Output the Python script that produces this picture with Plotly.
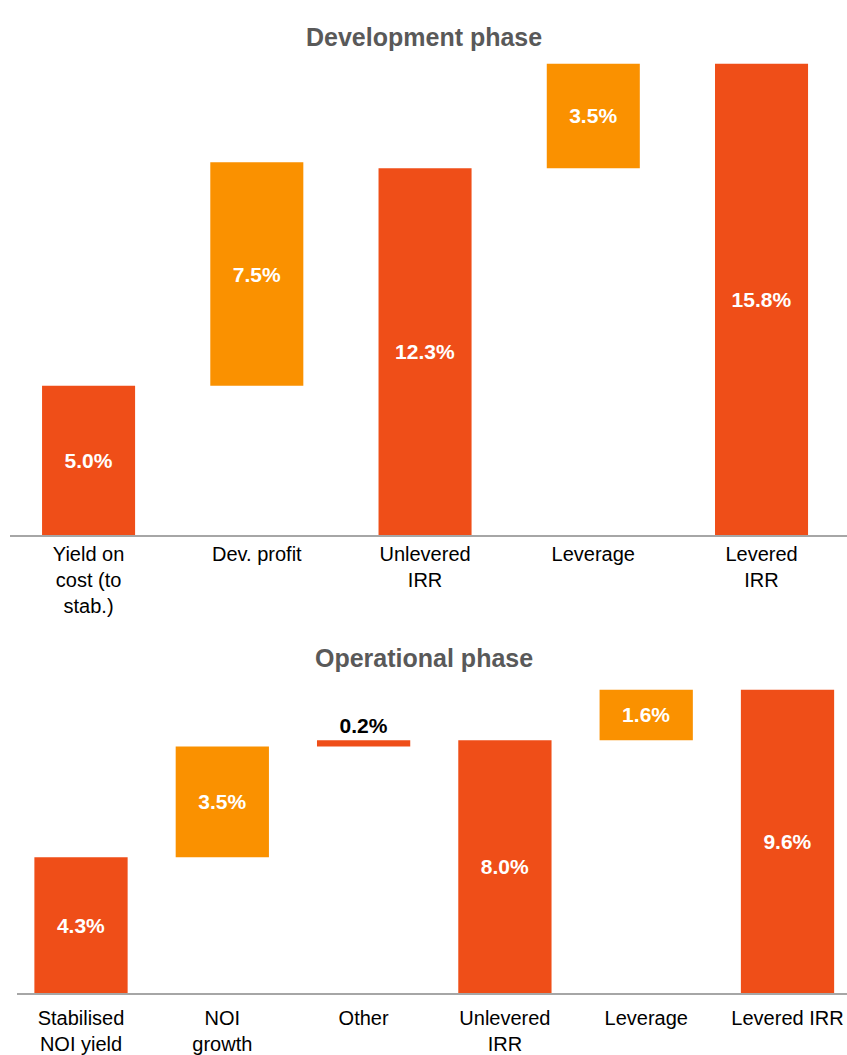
import plotly.graph_objects as go

# ---- Data ----
dev_labels = ["Yield on<br>cost (to<br>stab.)", "Dev. profit", "Unlevered<br>IRR", "Leverage", "Levered<br>IRR"]
dev_values = [5.0, 7.5, 12.3, 3.5, 15.8]
dev_measure = ["absolute", "relative", "absolute", "relative", "absolute"]
dev_kind = ["total", "step", "total", "step", "total"]

op_labels = ["Stabilised<br>NOI yield", "NOI<br>growth", "Other", "Unlevered<br>IRR", "Leverage", "Levered IRR"]
op_values = [4.3, 3.5, 0.2, 8.0, 1.6, 9.6]
op_measure = ["absolute", "relative", "relative", "absolute", "relative", "absolute"]
op_kind = ["total", "step", "minor", "total", "step", "total"]

RED = "#EF4E18"
ORANGE = "#FA9100"
FONT = "Liberation Sans, Arial, sans-serif"


def bases(values, measure):
    out, level = [], 0.0
    for v, m in zip(values, measure):
        if m == "relative":
            out.append(level)
            level += v
        else:
            out.append(0.0)
            level = v
    return out


def bar_trace(values, measure, kind, xaxis, yaxis, width):
    b = bases(values, measure)
    colors = [ORANGE if k == "step" else RED for k in kind]
    textpos = ["outside" if k == "minor" else "inside" for k in kind]
    tcolors = ["black" if k == "minor" else "white" for k in kind]
    return go.Bar(
        x=list(range(len(values))), y=values, base=b, width=width,
        marker=dict(color=colors, line=dict(width=0)),
        text=[f"<b>{v:.1f}%</b>" for v in values],
        textposition=textpos,
        insidetextanchor="middle",
        textfont=dict(family=FONT, size=21, color=tcolors),
        constraintext="none", cliponaxis=False,
        hoverinfo="skip", showlegend=False,
        xaxis=xaxis, yaxis=yaxis,
    )


fig = go.Figure()
fig.add_trace(bar_trace(dev_values, dev_measure, dev_kind, "x", "y", 0.553))
fig.add_trace(bar_trace(op_values, op_measure, op_kind, "x2", "y2", 0.66))

H = 1055.0
W = 847.0

axis_common = dict(showgrid=False, zeroline=False, ticks="", showline=True,
                   linecolor="#A6A6A6", linewidth=2,
                   tickfont=dict(family=FONT, size=20, color="black"))

fig.update_layout(
    width=847, height=1055,
    margin=dict(l=0, r=0, t=0, b=0),
    paper_bgcolor="white", plot_bgcolor="white",
    xaxis=dict(domain=[10 / W, 1.0], range=[-0.467, 4.508], anchor="y",
               tickvals=list(range(len(dev_labels))), ticktext=dev_labels, **axis_common),
    yaxis=dict(domain=[(H - 536) / H, (H - 40) / H], range=[0, 16.6], anchor="x",
               visible=False, fixedrange=True),
    xaxis2=dict(domain=[17 / W, 1.0], range=[-0.453, 5.421], anchor="y2",
                tickvals=list(range(len(op_labels))), ticktext=op_labels,
                ticklabelstandoff=6, **axis_common),
    yaxis2=dict(domain=[(H - 995) / H, (H - 680) / H], range=[0, 9.947], anchor="x2",
                visible=False, fixedrange=True),
    annotations=[
        dict(text="<b>Development phase</b>", x=0.5, y=(H - 21) / H, xref="paper", yref="paper",
             showarrow=False, font=dict(family=FONT, size=25, color="#595959")),
        dict(text="<b>Operational phase</b>", x=0.5, y=(H - 659) / H, xref="paper", yref="paper",
             showarrow=False, font=dict(family=FONT, size=25, color="#595959")),
    ],
)

fig.write_html("out.html")
